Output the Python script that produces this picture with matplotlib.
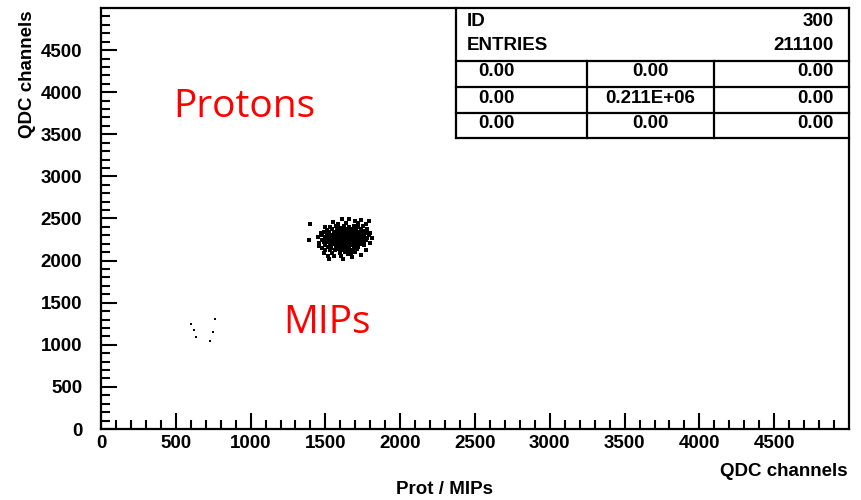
import matplotlib.pyplot as plt

plt.rcParams['font.family'] = 'Liberation Sans'
plt.rcParams['font.weight'] = 'bold'

# axis ticks (QDC channels)
x_ticks = [0, 500, 1000, 1500, 2000, 2500, 3000, 3500, 4000, 4500]
y_ticks = [0, 500, 1000, 1500, 2000, 2500, 3000, 3500, 4000, 4500]
minor_ticks = [v for v in range(100, 5000, 100) if v % 500]

# dense cluster
cluster_pts = [
    (1400, 2440), (1390, 2245), (1610, 2490), (1660, 2495), (1740, 2480), (1790, 2465),
    (1700, 2470), (1550, 2460), (1585, 2440), (1640, 2450), (1720, 2445), (1770, 2430),
    (1500, 2400), (1470, 2330), (1450, 2280), (1460, 2210), (1480, 2150), (1490, 2090),
    (1520, 2060), (1525, 2015), (1620, 2015), (1680, 2040), (1740, 2065), (1770, 2120),
    (1800, 2205), (1800, 2325), (1810, 2270), (1780, 2380), (1560, 2050), (1650, 2080),
    (1700, 2100), (1460, 2170), (1500, 2120),
    (1530, 2395), (1570, 2405), (1600, 2390), (1625, 2410), (1660, 2400), (1690, 2415),
    (1720, 2395), (1750, 2405),
    (1510, 2365), (1545, 2375), (1580, 2360), (1610, 2370), (1635, 2380), (1655, 2360),
    (1680, 2375), (1705, 2365), (1735, 2370), (1765, 2355),
    (1490, 2340), (1525, 2335), (1555, 2345), (1575, 2330), (1595, 2350), (1620, 2335),
    (1645, 2345), (1665, 2330), (1690, 2345), (1715, 2335), (1745, 2340), (1775, 2330),
    (1480, 2305), (1510, 2315), (1540, 2300), (1565, 2310), (1585, 2320), (1605, 2300),
    (1625, 2315), (1640, 2305), (1660, 2320), (1675, 2300), (1695, 2310), (1720, 2300),
    (1740, 2315), (1760, 2305), (1790, 2300),
    (1495, 2280), (1520, 2270), (1545, 2285), (1570, 2275), (1590, 2285), (1610, 2270),
    (1630, 2280), (1650, 2275), (1665, 2290), (1685, 2270), (1705, 2285), (1730, 2275),
    (1755, 2280), (1780, 2270),
    (1475, 2250), (1505, 2245), (1530, 2255), (1555, 2240), (1580, 2250), (1600, 2245),
    (1615, 2260), (1635, 2240), (1655, 2255), (1670, 2245), (1690, 2250), (1715, 2240),
    (1745, 2255), (1770, 2245),
    (1490, 2220), (1520, 2215), (1545, 2225), (1565, 2210), (1590, 2225), (1610, 2215),
    (1630, 2225), (1645, 2210), (1665, 2220), (1685, 2215), (1710, 2225), (1735, 2210),
    (1760, 2220),
    (1500, 2190), (1530, 2185), (1555, 2195), (1580, 2180), (1600, 2195), (1620, 2185),
    (1640, 2195), (1660, 2180), (1680, 2190), (1705, 2185), (1730, 2195), (1755, 2180),
    (1515, 2160), (1540, 2150), (1570, 2165), (1595, 2155), (1615, 2160), (1635, 2150),
    (1655, 2165), (1690, 2155), (1720, 2160),
    (1530, 2130), (1565, 2125), (1590, 2135), (1620, 2120), (1650, 2130), (1680, 2125),
    (1710, 2135),
    (1545, 2095), (1600, 2090), (1630, 2100), (1670, 2095), (1605, 2055),
    (1600, 2260), (1620, 2290), (1640, 2270), (1610, 2240), (1630, 2305), (1650, 2235),
    (1595, 2300), (1660, 2265), (1625, 2250), (1645, 2290), (1615, 2325), (1580, 2230),
    (1670, 2310), (1600, 2210), (1635, 2200), (1655, 2340), (1585, 2265), (1675, 2235),
]

# few isolated entries lower left
mip_pts = [(600, 1247), (624, 1176), (637, 1089), (727, 1042), (749, 1156), (762, 1310)]

# statistics box content
stat_rows = [['0.00', '0.00', '0.00'],
             ['0.00', '0.211E+06', '0.00'],
             ['0.00', '0.00', '0.00']]
hist_id = '300'
entries = '211100'

fig = plt.figure(figsize=(8.62, 5.0), dpi=100)
ax = fig.add_axes([101 / 862, 1 - 429 / 500, 748 / 862, 421 / 500])

cx, cy = zip(*cluster_pts)
mx, my = zip(*mip_pts)
ax.plot(cx, cy, 's', color='black', ms=2.2, mew=0, linestyle='none')
ax.plot(mx, my, 's', color='black', ms=2.0, mew=0, linestyle='none')

ax.set_xlim(0, 5000)
ax.set_ylim(0, 5000)
ax.set_xticks(x_ticks)
ax.set_yticks(y_ticks)
ax.set_xticks(minor_ticks, minor=True)
ax.set_yticks(minor_ticks, minor=True)
ax.tick_params(which='both', direction='in', width=1.5, labelsize=13.5, top=False, right=False)
ax.tick_params(which='major', length=11.5)
ax.tick_params(which='minor', length=6.5)
ax.tick_params(axis='x', which='major', pad=4)
ax.tick_params(axis='y', which='major', pad=13.5)
for lab in ax.get_xticklabels() + ax.get_yticklabels():
    lab.set_fontweight('bold')
for sp in ax.spines.values():
    sp.set_linewidth(1.6)

# stats box, axes fraction coords
bl, bb = 0.4746, 0.6912
row_lines = [0.8741, 0.8124, 0.7506]
col_lines = [0.6497, 0.8195]
kw = dict(transform=ax.transAxes, color='black', lw=1.6, clip_on=False)
ax.plot([bl, bl], [bb, 1.0], **kw)
ax.plot([bl, 1.0], [bb, bb], **kw)
for r in row_lines:
    ax.plot([bl, 1.0], [r, r], **kw)
for c in col_lines:
    ax.plot([c, c], [bb, row_lines[0]], **kw)

tkw = dict(transform=ax.transAxes, fontsize=13.5, fontweight='bold', va='center')
ax.text(0.489, 0.969, 'ID', ha='left', **tkw)
ax.text(0.489, 0.912, 'ENTRIES', ha='left', **tkw)
ax.text(0.980, 0.969, hist_id, ha='right', **tkw)
ax.text(0.980, 0.912, entries, ha='right', **tkw)
row_y = [0.848, 0.786, 0.7245]
for yy, row in zip(row_y, stat_rows):
    ax.text(0.505, yy, row[0], ha='left', **tkw)
    ax.text(0.734, yy, row[1], ha='center', **tkw)
    ax.text(0.980, yy, row[2], ha='right', **tkw)

# red annotations
ax.text(480, 3705, 'Protons', color='#ff0000', fontsize=28, fontweight='normal',
        family='Open Sans', va='baseline')
ax.text(1215, 1140, 'MIPs', color='#ff0000', fontsize=28, fontweight='normal',
        family='Open Sans', va='baseline')

fig.text(28 / 862, 1 - 10 / 500, 'QDC channels', rotation=90, ha='center', va='top',
         fontsize=13.5, fontweight='bold')
fig.text(848 / 862, 1 - 471 / 500, 'QDC channels', ha='right', va='center',
         fontsize=13.5, fontweight='bold')
fig.text(445 / 862, 1 - 490 / 500, 'Prot / MIPs', ha='center', va='center',
         fontsize=13.5, fontweight='bold')

plt.savefig('out.png', dpi=100)
plt.close()
